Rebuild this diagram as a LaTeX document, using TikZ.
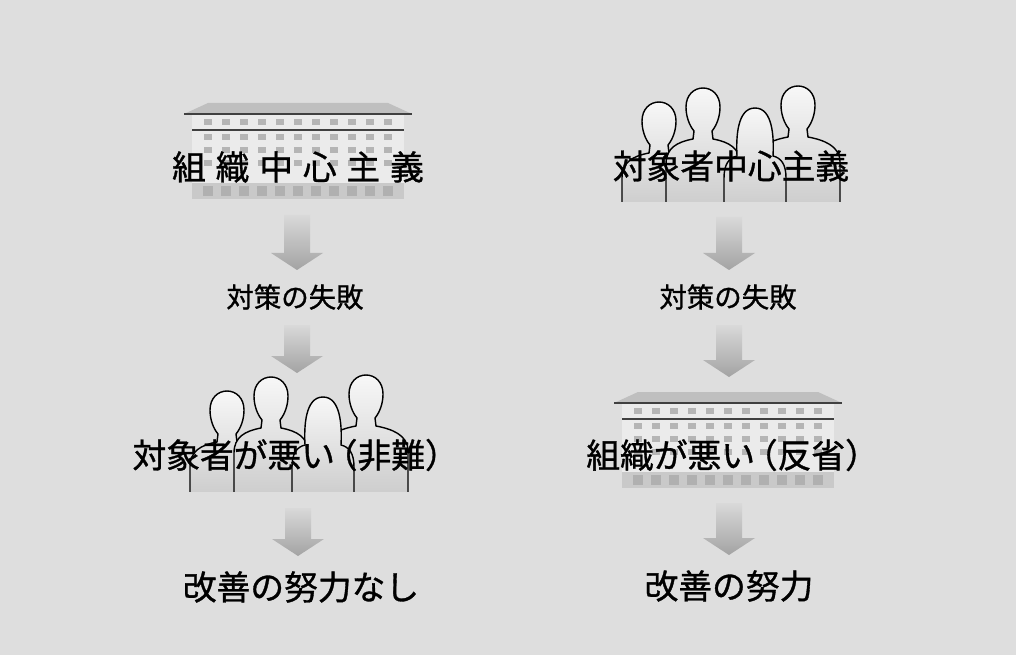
\documentclass[tikz,border=0pt]{standalone}
\usepackage{fontspec}
\setmainfont[FakeBold=1]{Noto Sans CJK JP}
\usetikzlibrary{calc}

\definecolor{paper}{gray}{0.87}
\definecolor{facade}{gray}{0.92}

% one standing figure: head centre x, head top y, half body width
\newcommand{\man}[3]{%
  \shadedraw[figure] ({#1-#3},120) -- ({#1-#3},{#2+76})
    .. controls ({#1-#3},{#2+60}) and ({#1-26},{#2+54}) .. ({#1-10},{#2+51})
    -- ({#1-9},{#2+43})
    .. controls ({#1-14},{#2+37}) and ({#1-17},{#2+28}) .. ({#1-17},{#2+19})
    .. controls ({#1-17},{#2+7}) and ({#1-9},{#2}) .. ({#1},{#2})
    .. controls ({#1+9},{#2}) and ({#1+17},{#2+7}) .. ({#1+17},{#2+19})
    .. controls ({#1+17},{#2+28}) and ({#1+14},{#2+37}) .. ({#1+9},{#2+43})
    -- ({#1+10},{#2+51})
    .. controls ({#1+26},{#2+54}) and ({#1+#3},{#2+60}) .. ({#1+#3},{#2+76})
    -- ({#1+#3},120) -- cycle;}
% same with long hair
\newcommand{\woman}[3]{%
  \shadedraw[figure] ({#1-#3},120) -- ({#1-#3},{#2+70})
    .. controls ({#1-#3},{#2+56}) and ({#1-26},{#2+50}) .. ({#1-18},{#2+48})
    .. controls ({#1-19},{#2+30}) and ({#1-18},{#2}) .. ({#1},{#2})
    .. controls ({#1+18},{#2}) and ({#1+19},{#2+30}) .. ({#1+18},{#2+48})
    .. controls ({#1+26},{#2+50}) and ({#1+#3},{#2+56}) .. ({#1+#3},{#2+70})
    -- ({#1+#3},120) -- cycle;}
% block arrow from top point to tip
\newcommand{\flowarrow}[2]{%
  \shade[arrowshade] ($(#1)+(-13,0)$) -- ($(#1)+(13,0)$) -- ($(#2)+(13,-17)$)
    -- ($(#2)+(26,-17)$) -- (#2) -- ($(#2)+(-26,-17)$) -- ($(#2)+(-13,-17)$) -- cycle;}

\tikzset{
  big/.style={font=\fontsize{24pt}{28pt}\selectfont, inner sep=0pt},
  small/.style={font=\fontsize{19.5pt}{24pt}\selectfont, inner sep=0pt},
  arrowshade/.style={top color=gray!30, bottom color=gray!72},
  figure/.style={draw=black, line width=1pt, top color=gray!6, bottom color=gray!40},
  window/.style={fill=gray!58},
  building/.pic={
    % roof
    \fill[gray!50] (-90,0) -- (90,0) -- (114,11) -- (-114,11) -- cycle;
    % facade and floors
    \fill[facade] (-106,11) rectangle (106,80);
    \draw[black!75, line width=0.8pt] (-114,11) -- (114,11);
    \draw[black!75, line width=0.8pt] (-106,27) -- (106,27);
    \fill[gray!42] (-106,80) rectangle (106,96);
    \foreach \i in {-5,...,5} {
      \foreach \r in {16,31,44,57}
        \fill[window] (\i*18-4,\r) rectangle (\i*18+4,\r+6);
      \fill[gray!62] (\i*18-5,83) rectangle (\i*18+5,93);
    }
  },
  crowd/.pic={
    \begin{scope}
      \clip (-130,-20) rectangle (130,114);
      \man{-72}{14}{37}
      \man{67}{-2}{42}
      \man{-28}{0}{37}
      \woman{24}{20}{31}
    \end{scope}
  }
}

\begin{document}
\begin{tikzpicture}[x=0.025cm, y=-0.025cm]
    \useasboundingbox (0,0) rectangle (1016,655);
    \fill[paper] (0,0) rectangle (1016,655);

    % pictures behind the headings
    \pic at (298,103) {building};
    \pic at (731,88) {crowd};
    \pic at (299,377) {crowd};
    \pic at (728,392) {building};

    % arrows
    \coordinate (l1) at (297,215);  \coordinate (l1e) at (297,270);
    \coordinate (l2) at (297,325);  \coordinate (l2e) at (297,373);
    \coordinate (l3) at (298,508);  \coordinate (l3e) at (298,556);
    \coordinate (r1) at (729,217);  \coordinate (r1e) at (729,270);
    \coordinate (r2) at (729,325);  \coordinate (r2e) at (729,377);
    \coordinate (r3) at (729,503);  \coordinate (r3e) at (729,555);
    \foreach \a in {l1,l2,l3,r1,r2,r3} {
        \flowarrow{\a}{\a e}
    }

    % left column
    \node[big] (orgcentric) at (298,167)
        {組\kern7pt 織\kern7pt 中\kern7pt 心\kern7pt 主\kern7pt 義};
    \node[small] (fail1) at (295,297) {対策の失敗};
    \node[big] (blame) at (290,455) {対象者が悪い\kern-8pt（非難）\kern-8pt};
    \node[big] (noeffort) at (301,587) {改善の努力なし};

    % right column
    \node[big] (clientcentric) at (731,166) {対象者中心主義};
    \node[small] (fail2) at (728,297) {対策の失敗};
    \node[big] (reflect) at (727,455) {組織が悪い\kern-8pt（反省）\kern-8pt};
    \node[big] (effort) at (729,586) {改善の努力};
\end{tikzpicture}
\end{document}
